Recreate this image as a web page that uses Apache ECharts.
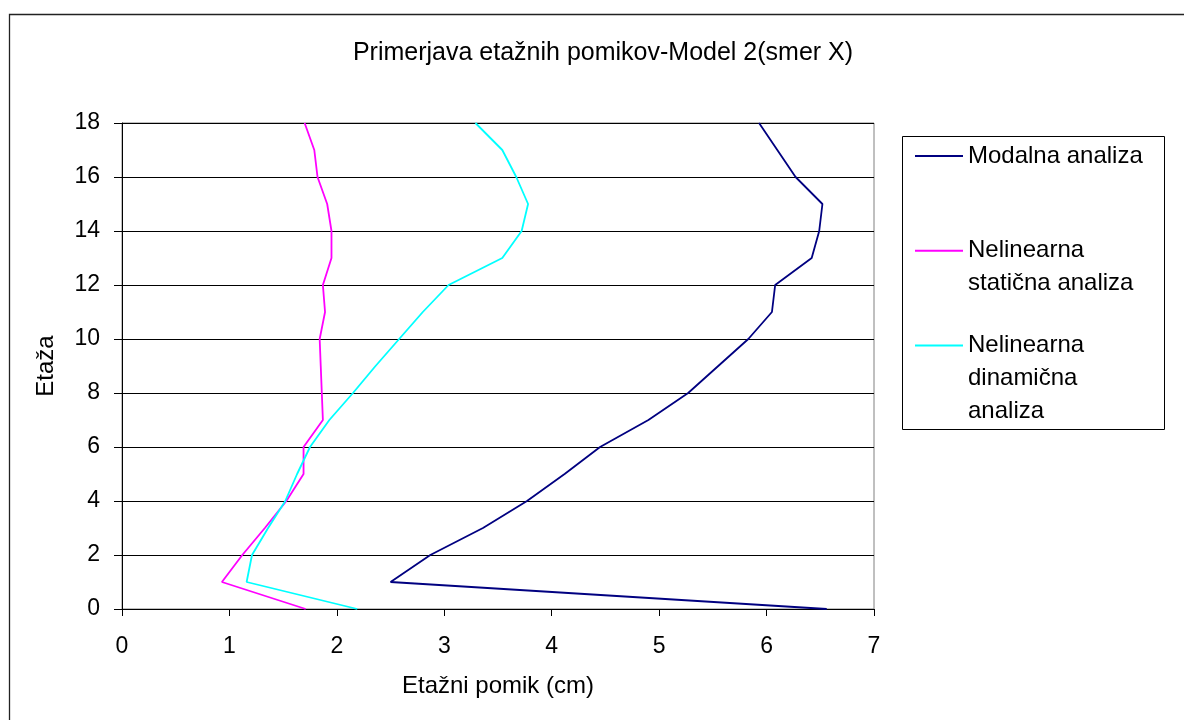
<!DOCTYPE html>
<html>
<head>
<meta charset="utf-8">
<script src="https://cdn.jsdelivr.net/npm/echarts@6/dist/echarts.min.js"></script>
<style>
  html, body { margin: 0; padding: 0; background: #fff; }
  #chart { width: 1184px; height: 720px; }
</style>
</head>
<body>
<div id="chart"></div>
<script>
// Storey levels and storey drifts (cm) for the three analyses
const floors = [0, 1, 2, 3, 4, 5, 6, 7, 8, 9, 10, 11, 12, 13, 14, 15, 16, 17, 18];
const modalna = [6.56, 2.50, 2.87, 3.36, 3.77, 4.12, 4.45, 4.90, 5.27, 5.55, 5.83, 6.05, 6.08, 6.42, 6.49, 6.52, 6.27, 6.10, 5.93];
const staticna = [1.71, 0.93, 1.12, 1.33, 1.53, 1.69, 1.69, 1.87, 1.86, 1.85, 1.84, 1.89, 1.87, 1.95, 1.95, 1.91, 1.82, 1.79, 1.70];
const dinamicna = [2.19, 1.16, 1.21, 1.36, 1.52, 1.63, 1.75, 1.93, 2.15, 2.36, 2.58, 2.80, 3.04, 3.54, 3.72, 3.78, 3.67, 3.54, 3.29];

const seriesNames = ['Modalna analiza', 'Nelinearna\nstatična analiza', 'Nelinearna\ndinamična\nanaliza'];
const seriesColors = ['#000080', '#FF00FF', '#00FFFF'];
const seriesValues = [modalna, staticna, dinamicna];

const FONT = "'Liberation Sans', Arial, sans-serif";
const LINE_H = 33;

// Legend swatch drawn beside the first text line of each entry
function swatch(lines) {
  const box = 3 * LINE_H;
  const y = box / 2 - (lines - 1) * LINE_H / 2 - 1;
  return 'path://M0,0M0,' + y + 'h48v2h-48zM48,' + box;
}

const chart = echarts.init(document.getElementById('chart'), null, { renderer: 'canvas' });

chart.setOption({
  backgroundColor: '#fff',
  animation: false,
  textStyle: { fontFamily: FONT },
  grid: {
    left: 122, top: 123, width: 752, height: 486,
    show: true, borderColor: '#808080', borderWidth: 1, backgroundColor: '#fff'
  },
  xAxis: {
    type: 'value', min: 0, max: 7, interval: 1,
    name: 'Etažni pomik (cm)', nameLocation: 'middle', nameGap: 65,
    nameTextStyle: { fontSize: 24, color: '#000', fontFamily: FONT },
    axisLine: { show: true, lineStyle: { color: '#000', width: 1 } },
    axisTick: { show: true, length: 7, lineStyle: { color: '#000' } },
    axisLabel: { fontSize: 23, color: '#000', margin: 26, fontFamily: FONT },
    splitLine: { show: false }
  },
  yAxis: {
    type: 'value', min: 0, max: 18, interval: 2,
    name: 'Etaža', nameLocation: 'middle', nameGap: 64,
    nameTextStyle: { fontSize: 24, color: '#000', fontFamily: FONT },
    axisLine: { show: true, lineStyle: { color: '#000', width: 1 } },
    axisTick: { show: true, length: 8, lineStyle: { color: '#000' } },
    axisLabel: { fontSize: 23, color: '#000', margin: 22, fontFamily: FONT },
    splitLine: { show: true, lineStyle: { color: '#000', width: 1 } }
  },
  legend: {
    orient: 'vertical', left: 915, top: 106.5, padding: 0,
    itemWidth: 48, itemHeight: 3 * LINE_H, itemGap: 12.2,
    selectedMode: false,
    textStyle: { fontSize: 24, color: '#000', lineHeight: LINE_H, fontFamily: FONT },
    data: seriesNames.map((n, i) => ({
      name: n,
      icon: swatch(n.split('\n').length),
      itemStyle: { color: seriesColors[i], borderWidth: 0 }
    }))
  },
  graphic: [
    // outer chart frame
    { type: 'rect', shape: { x: 9.5, y: 14.5, width: 1400, height: 900 },
      style: { fill: 'none', stroke: '#222', lineWidth: 1.3 }, silent: true, z: 0 },
    // legend frame
    { type: 'rect', shape: { x: 902.5, y: 136.5, width: 262, height: 293 },
      style: { fill: 'none', stroke: '#000', lineWidth: 1 }, silent: true, z: 0 },
    { type: 'text', x: 603, y: 53,
      style: { text: 'Primerjava etažnih pomikov-Model 2(smer X)', font: '25px ' + FONT,
               fill: '#000', textAlign: 'center', textVerticalAlign: 'middle' } }
  ],
  series: seriesNames.map((n, i) => ({
    name: n,
    type: 'line',
    showSymbol: false,
    symbol: 'none',
    color: seriesColors[i],
    lineStyle: { color: seriesColors[i], width: 1.8 },
    data: floors.map((f, k) => [seriesValues[i][k], f])
  }))
});
</script>
</body>
</html>
